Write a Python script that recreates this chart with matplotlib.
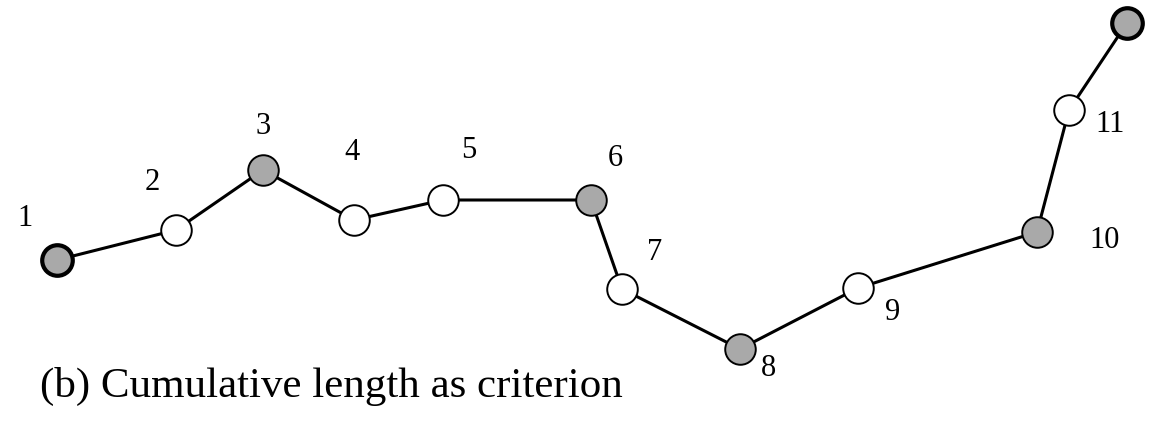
import matplotlib.pyplot as plt

xs = [57, 176, 263, 354, 443, 591, 622, 740, 858, 1037, 1069, 1127]
ys = [260, 230, 170, 220, 200, 200, 289, 349, 288, 232, 110, 23]
gray = [True, False, True, False, False, True, False, True, False, True, False, True]
labels = ["1", "2", "3", "4", "5", "6", "7", "8", "9", "10", "11", ""]
label_pos = [(25, 218), (152, 183), (263, 127), (352, 153), (469, 150), (615, 158),
             (655, 252), (768, 368), (893, 313), (1105, 240), (1110, 125), (0, 0)]
caption = "(b) Cumulative length as criterion"

fig = plt.figure(figsize=(11.5, 4.29), dpi=100)
ax = fig.add_axes([0, 0, 1, 1])
ax.set_xlim(0, 1150)
ax.set_ylim(429, 0)
ax.axis('off')
ax.plot(xs, ys, color='black', lw=2.2, zorder=1)
for i, (x, y, g) in enumerate(zip(xs, ys, gray)):
    ew = 3 if i in (0, len(xs) - 1) else 1.4
    ax.plot(x, y, 'o', ms=22, mfc='#a9a9a9' if g else 'white', mec='black', mew=ew, zorder=2)
for lab, (lx, ly) in zip(labels, label_pos):
    if lab:
        ax.text(lx, ly, lab, fontsize=22, family='Liberation Serif', ha='center', va='center')
ax.text(40, 386, caption, fontsize=31, family='Liberation Serif', ha='left', va='center')
fig.savefig('out.png', dpi=100)
